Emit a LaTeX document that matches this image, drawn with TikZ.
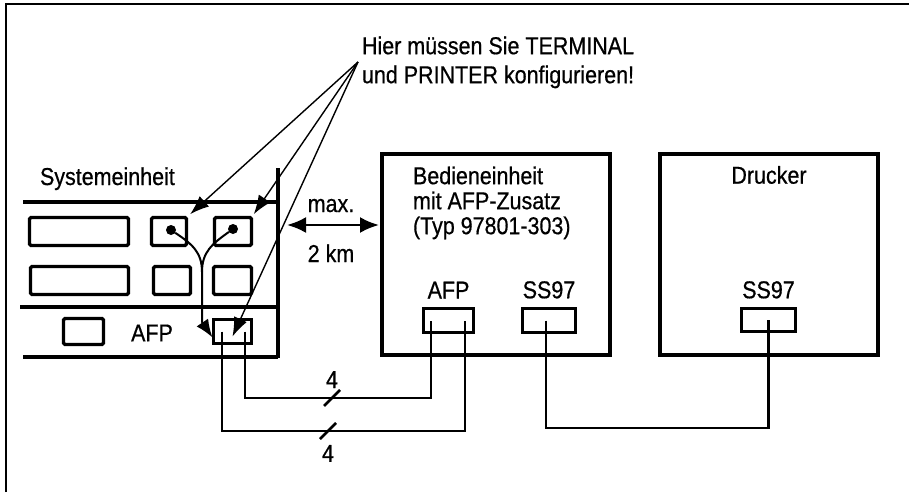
\documentclass[tikz,border=0pt]{standalone}
\usepackage{fontspec}
\setmainfont{Liberation Sans}[FakeStretch=0.88, FakeBold=0.6]
\usetikzlibrary{arrows.meta,positioning}
\begin{document}
\begin{tikzpicture}[
  x=1pt, y=-1pt,
  every node/.style={font=\fontsize{24.4}{25}\selectfont, inner sep=0pt, outer sep=0pt},
  frame/.style={line width=2pt},
  rack/.style={line width=3.4pt},
  slot/.style={draw, line width=3.4pt, rectangle, rounded corners=1.5pt,
               minimum height=28pt},
  port/.style={draw, line width=3.4pt, rectangle, minimum height=24pt},
  unit/.style={draw, line width=3.8pt, rectangle, minimum height=201pt},
  jack/.style={circle, fill, minimum size=10pt},
  wire/.style={line width=2.3pt},
  tick/.style={line width=2.8pt},
  call/.style={-{Latex[length=19pt, width=14pt]}, line width=1.4pt},
  feed/.style={-{Latex[length=18pt, width=14pt]}, line width=2pt},
  span/.style={{Latex[length=19pt, width=16pt]}-{Latex[length=19pt, width=16pt]},
               line width=2.6pt},
]
\useasboundingbox (0,0) rectangle (909,492);
% Frame (top and left only)
\draw[frame] (6,492) -- (6,4) -- (909,4);
% Systemeinheit rack
\node[anchor=base west] (sys) at (40,185) {Systemeinheit};
\draw[rack] (278,168) -- (278,358);
\draw[rack] (23,202) -- (278,202);
\draw[rack] (20,307) -- (278,307);
\draw[rack] (23,357) -- (278,357);
% Row 1
\node[slot, minimum width=99pt] (sa) at (79,231.5) {};
\node[slot, minimum width=35pt] (sb) at (169,231.5) {};
\node[slot, minimum width=37pt] (sc) at (233,231.5) {};
% Row 2
\node[slot, minimum width=98pt] (sd) at (79.5,280.5) {};
\node[slot, minimum width=37pt] (se) at (172,280.5) {};
\node[slot, minimum width=38pt] (sf) at (232.5,280.5) {};
% Row 3 -- AFP port of the host
\node[slot, minimum width=40pt, minimum height=26pt] (sg) at (83.5,331.5) {};
\node (afplbl) at (152,333) {AFP};
\node[port, minimum width=38pt] (hp) at (232.5,331.5) {};
% Jacks in row 1, fed down to the AFP port
\node[jack] (jb) at (171,230) {};
\node[jack] (jc) at (233,229) {};
\draw[line width=2pt] (jb) .. controls (192,244) and (202,252) .. (202,272);
\draw[feed] (jc) .. controls (212,244) and (202,252) .. (202,272)
  -- (202,322) -- ([shift={(-20,6)}]hp.center);
% Bedieneinheit
\node[unit, minimum width=228pt] (bed) at (496,254.5) {};
\node[anchor=north west, align=left] (bedtxt) at (413,166.5)
  {Bedieneinheit\\mit AFP-Zusatz\\(Typ 97801-303)};
\node[port, minimum width=50pt] (tafp) at (448.5,320.5) {};
\node[above=10pt of tafp] {AFP};
\node[port, minimum width=53pt] (tss) at (549,320.5) {};
\node[above=10pt of tss] {SS97};
% Drucker
\node[unit, minimum width=218pt] (dru) at (769,254.5) {};
\node[below=12pt of dru.north] {Drucker};
\node[port, minimum width=54pt, minimum height=23pt] (pss) at (768.5,320) {};
\node[above=10pt of pss] {SS97};
% Distance arrow
\coordinate (gapL) at (287,225);
\draw[span] (gapL) -- ([xshift=-3pt]gapL -| bed.west);
\node[anchor=base] at (331,212) {max.};
\node[anchor=base] at (331,262) {2 km};
% Wires, 4 lines each
\coordinate (busin) at (332,398);
\coordinate (busout) at (328,431);
\draw[wire] ([xshift=12.5pt]hp.center) |- (busin) -| ([xshift=-17.5pt]tafp.center);
\draw[wire] ([xshift=-10.5pt]hp.center) |- (busout) -| ([xshift=16.5pt]tafp.center);
\draw[tick] ([shift={(-8,8)}]busin) -- ([shift={(8,-8)}]busin);
\draw[tick] ([shift={(-8,8)}]busout) -- ([shift={(8,-8)}]busout);
\node[above=10pt of busin] {4};
\node[below=14pt of busout] {4};
% Printer line
\coordinate (busp) at (657,428);
\draw[wire] ([xshift=-3pt]tss.center) |- (busp) -| (pss.center);
% Callout
\coordinate (callout) at (358,62);
\node[anchor=north west, align=left, font=\fontsize{24.4}{29}\selectfont] (note)
  at (362,36.5) {Hier müssen Sie TERMINAL\\und PRINTER konfigurieren!};
\draw[call, shorten >=5pt] (callout) -- (sb.north east);
\draw[call, shorten >=4pt] (callout) -- (sc.north east);
\draw[call] (callout) -- ([yshift=-5pt]hp.center);
\end{tikzpicture}
\end{document}
